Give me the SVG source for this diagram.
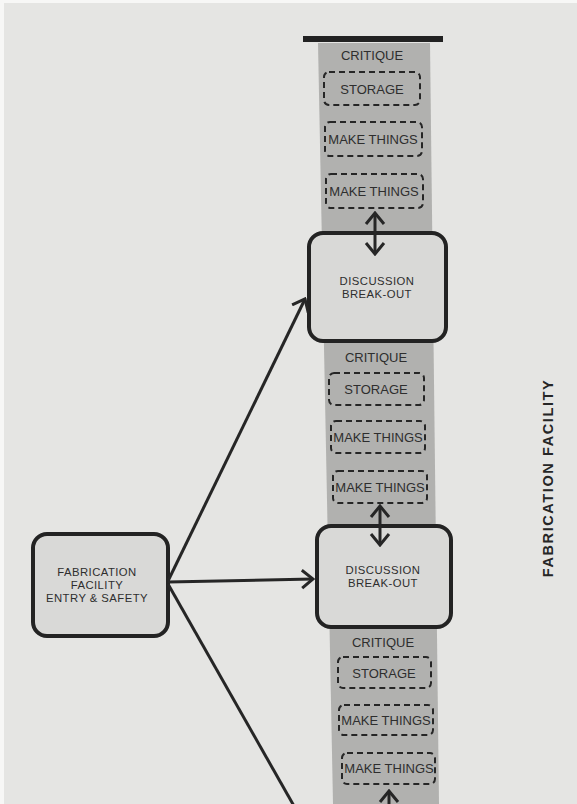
<svg xmlns="http://www.w3.org/2000/svg" width="577" height="804" viewBox="0 0 577 804">
  <defs>
    <style>
      .paper { fill: #e5e5e3; }
      .column { fill: #b1b1af; }
      .node { fill: #d9d9d7; stroke: #232323; stroke-width: 4; }
      .slot { fill: none; stroke: #262626; stroke-width: 2; stroke-dasharray: 6 4; }
      .link { fill: none; stroke: #262626; stroke-width: 3; }
      .lbl { font-family: "Liberation Sans", Arial, sans-serif; fill: #2e2e2e; text-anchor: middle; }
      .node-lbl { font-size: 11.3px; letter-spacing: 0.45px; }
      .slot-lbl { font-size: 13px; }
      .title { font-family: "Liberation Sans", Arial, sans-serif; font-weight: bold; font-size: 14.5px; letter-spacing: 1.6px; fill: #262626; text-anchor: middle; }
    </style>
    <marker id="head" viewBox="-12 -11 14 22" markerWidth="14" markerHeight="22" refX="0" refY="0" orient="auto-start-reverse" markerUnits="userSpaceOnUse">
      <path d="M -11 -9 L 0 0 L -11 9" fill="none" stroke="#262626" stroke-width="3"/>
    </marker>
  </defs>

  <!-- page -->
  <rect x="0" y="0" width="577" height="804" fill="#f7f7f6"/>
  <rect class="paper" x="4" y="3" width="573" height="801"/>

  <!-- shaded facility column and top rule -->
  <polygon class="column" points="318,43 430,43 439,804 333,804"/>
  <rect x="303" y="36" width="140" height="6" fill="#222"/>

  <!-- column section 1 -->
  <g id="critique-1">
    <text class="lbl slot-lbl" x="372" y="60" font-size="13.5">CRITIQUE</text>
  </g>
  <g id="storage-1">
    <rect class="slot" x="324" y="72" width="96" height="33" rx="5"/>
    <text class="lbl slot-lbl" x="372" y="93.5">STORAGE</text>
  </g>
  <g id="make-1a">
    <rect class="slot" x="325" y="122" width="97" height="34" rx="5"/>
    <text class="lbl slot-lbl" x="373" y="143.5">MAKE THINGS</text>
  </g>
  <g id="make-1b">
    <rect class="slot" x="326" y="174" width="97" height="34" rx="5"/>
    <text class="lbl slot-lbl" x="374" y="196">MAKE THINGS</text>
  </g>

  <!-- discussion 1 -->
  <g id="discussion-1">
    <rect class="node" x="309" y="233" width="137" height="108" rx="14"/>
    <text class="lbl node-lbl" x="377" y="285">DISCUSSION</text>
    <text class="lbl node-lbl" x="377" y="298">BREAK-OUT</text>
  </g>

  <!-- column section 2 -->
  <g id="critique-2">
    <text class="lbl slot-lbl" x="376" y="362" font-size="13.5">CRITIQUE</text>
  </g>
  <g id="storage-2">
    <rect class="slot" x="329" y="373" width="95" height="32" rx="5"/>
    <text class="lbl slot-lbl" x="376" y="394">STORAGE</text>
  </g>
  <g id="make-2a">
    <rect class="slot" x="331" y="421" width="94" height="32" rx="5"/>
    <text class="lbl slot-lbl" x="378" y="442">MAKE THINGS</text>
  </g>
  <g id="make-2b">
    <rect class="slot" x="333" y="471" width="94" height="32" rx="5"/>
    <text class="lbl slot-lbl" x="380" y="491.5">MAKE THINGS</text>
  </g>

  <!-- discussion 2 -->
  <g id="discussion-2">
    <rect class="node" x="317" y="526" width="134" height="101" rx="14"/>
    <text class="lbl node-lbl" x="383" y="574">DISCUSSION</text>
    <text class="lbl node-lbl" x="383" y="587">BREAK-OUT</text>
  </g>

  <!-- entry node -->
  <g id="entry">
    <rect class="node" x="33" y="534" width="135" height="102" rx="14"/>
    <text class="lbl node-lbl" x="97" y="576">FABRICATION</text>
    <text class="lbl node-lbl" x="97" y="589">FACILITY</text>
    <text class="lbl node-lbl" x="97" y="602">ENTRY &amp; SAFETY</text>
  </g>

  <!-- column section 3 -->
  <g id="critique-3">
    <text class="lbl slot-lbl" x="383" y="647" font-size="13.5">CRITIQUE</text>
  </g>
  <g id="storage-3">
    <rect class="slot" x="338" y="657" width="93" height="31" rx="5"/>
    <text class="lbl slot-lbl" x="384" y="677.5">STORAGE</text>
  </g>
  <g id="make-3a">
    <rect class="slot" x="339" y="705" width="94" height="30" rx="5"/>
    <text class="lbl slot-lbl" x="386" y="724.5">MAKE THINGS</text>
  </g>
  <g id="make-3b">
    <rect class="slot" x="342" y="753" width="93" height="31" rx="5"/>
    <text class="lbl slot-lbl" x="389" y="773">MAKE THINGS</text>
  </g>

  <!-- connectors, drawn over the nodes so the arrowheads inside the boxes show -->
  <g id="connectors">
    <line class="link" x1="168" y1="581" x2="305" y2="299" marker-end="url(#head)"/>
    <line class="link" x1="168" y1="582" x2="313" y2="579" marker-end="url(#head)"/>
    <line class="link" x1="168" y1="584" x2="294" y2="806"/>
    <line class="link" x1="375" y1="213" x2="375" y2="254" marker-start="url(#head)" marker-end="url(#head)"/>
    <line class="link" x1="380" y1="506" x2="380" y2="545" marker-start="url(#head)" marker-end="url(#head)"/>
    <line class="link" x1="389" y1="791" x2="389" y2="810" marker-start="url(#head)"/>
  </g>

  <!-- facility title -->
  <g id="facility-title">
    <text class="title" transform="translate(553,478) rotate(-90)">FABRICATION FACILITY</text>
  </g>
</svg>
